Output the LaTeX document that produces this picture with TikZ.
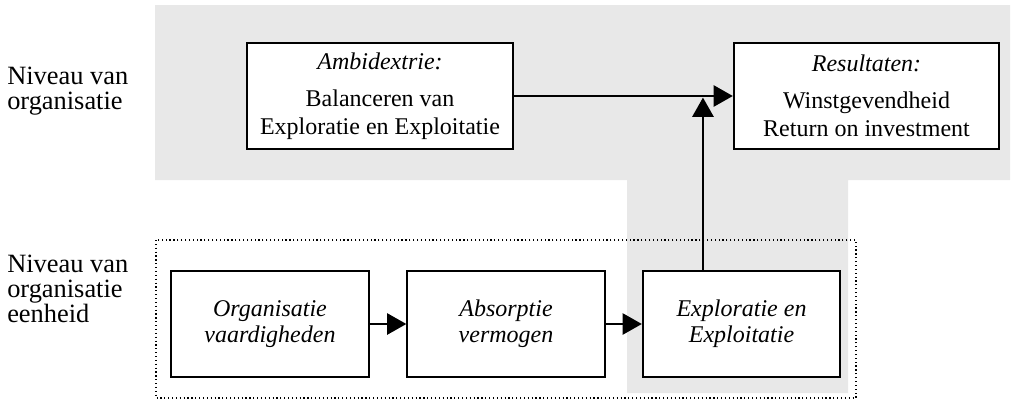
\documentclass[tikz,border=0pt]{standalone}
\usepackage{fontspec}
\setmainfont{Liberation Serif}
\usepackage{tikz}
\usetikzlibrary{positioning,arrows.meta}
\definecolor{bandgray}{RGB}{232,232,232}

\begin{document}
\begin{tikzpicture}[
  x=0.75pt, y=-0.75pt,
  font=\fontsize{18}{21}\selectfont,
  box/.style={draw, line width=1.5pt, fill=white, align=center, inner sep=2pt, minimum width=199pt, minimum height=79pt},
  unit/.style={box, minimum width=148pt, font=\fontsize{18}{19.5}\selectfont\itshape},
  lvl/.style={align=left, anchor=west, inner sep=0pt, font=\fontsize{19.8}{18.75}\selectfont},
  ar/.style={-{Triangle[length=14.5pt, width=16pt]}, line width=1.5pt}]
\useasboundingbox (0,0) rectangle (1014,400);
% ---- background band and dotted unit frame
\fill[bandgray] (155,5) -- (1010,5) -- (1010,180) -- (848,180) -- (848,393) -- (627,393) -- (627,180) -- (155,180) -- cycle;
\draw[dotted, line width=0.9pt] (156,240) rectangle (856,398);
% ---- level labels
\node[lvl] (lvlorg) at (7,91) {Niveau van\\organisatie};
\node[lvl] (lvlunit) at (7,289) {Niveau van\\organisatie\\eenheid};
% ---- organisation level
\node[box] (ambi) at (380,96) {\textit{Ambidextrie:}\\[6.75pt] Balanceren van\\ Exploratie en Exploitatie};
\node[box] (res) at (866.5,96) {\textit{Resultaten:}\\[6.75pt] Winstgevendheid\\ Return on investment};
% ---- unit level
\node[unit] (org) at (270,324) {Organisatie\\ vaardigheden};
\node[unit] (abs) at (506,324) {Absorptie\\ vermogen};
\node[unit] (expl) at (741.5,324) {Exploratie en\\ Exploitatie};
\coordinate (rise) at ([xshift=-28.9pt]expl.north);
\coordinate (join) at (rise |- res.west);
% arrows
\draw[ar] (ambi.east) -- (res.west);
\draw[ar] (rise) -- ([yshift=-1.2pt]join);
\draw[ar] (org.east) -- (abs.west);
\draw[ar] (abs.east) -- (expl.west);
\end{tikzpicture}
\end{document}
